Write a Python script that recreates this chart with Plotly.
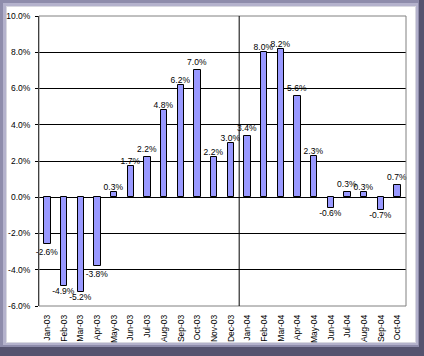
import plotly.graph_objects as go

months = ["Jan-03", "Feb-03", "Mar-03", "Apr-03", "May-03", "Jun-03", "Jul-03", "Aug-03",
          "Sep-03", "Oct-03", "Nov-03", "Dec-03", "Jan-04", "Feb-04", "Mar-04", "Apr-04",
          "May-04", "Jun-04", "Jul-04", "Aug-04", "Sep-04", "Oct-04"]
returns = [-2.6, -4.9, -5.2, -3.8, 0.3, 1.7, 2.2, 4.8, 6.2, 7.0, 2.2, 3.0,
           3.4, 8.0, 8.2, 5.6, 2.3, -0.6, 0.3, 0.3, -0.7, 0.7]
y_ticks = [-6, -4, -2, 0, 2, 4, 6, 8, 10]

W, H = 424, 356
L, R, T, B = 39, 18, 16, 50
pw, ph = W - L - R, H - T - B

def px(x):
    return (x - L) / pw

def py(y):
    return (H - B - y) / ph

FONT = "Liberation Sans, Arial, sans-serif"

fig = go.Figure()
fig.add_trace(go.Bar(
    x=months, y=returns, width=0.38,
    marker=dict(color="#9999FF", line=dict(color="black", width=1)),
    text=[f"{v:.1f}%" for v in returns],
    textposition="outside", constraintext="none", cliponaxis=False,
    textfont=dict(family=FONT, size=8.5, color="black"),
))

shapes = [
    # frame bevel
    dict(type="rect", xref="paper", yref="paper", x0=px(0), x1=px(W), y0=py(H), y1=py(0),
         fillcolor="#55536f", line=dict(width=0), layer="below"),
    dict(type="rect", xref="paper", yref="paper", x0=px(0), x1=px(419), y0=py(347), y1=py(0),
         fillcolor="#8e8cab", line=dict(width=0), layer="below"),
    dict(type="rect", xref="paper", yref="paper", x0=px(3), x1=px(418), y0=py(345), y1=py(3),
         fillcolor="#b4b2cc", line=dict(width=0), layer="below"),
    dict(type="rect", xref="paper", yref="paper", x0=px(6), x1=px(416), y0=py(343), y1=py(6),
         fillcolor="#d8d8e0", line=dict(width=0), layer="below"),
    dict(type="rect", xref="paper", yref="paper", x0=px(7), x1=px(415), y0=py(342), y1=py(7),
         fillcolor="white", line=dict(width=0), layer="below"),
    # plot area border
    dict(type="rect", xref="paper", yref="paper", x0=0, x1=1, y0=0, y1=1,
         line=dict(color="#808080", width=1), layer="above"),
    # year divider
    dict(type="line", xref="x", yref="paper", x0=11.5, x1=11.5, y0=0, y1=1,
         line=dict(color="black", width=1), layer="above"),
]

fig.update_layout(
    width=W, height=H,
    margin=dict(l=L, r=R, t=T, b=B),
    paper_bgcolor="#55536f", plot_bgcolor="rgba(0,0,0,0)",
    showlegend=False, shapes=shapes, bargap=0,
    font=dict(family=FONT, size=8.5, color="black"),
)
fig.update_xaxes(
    type="category", tickangle=-90, showgrid=False, showline=False,
    ticks="", ticklabelstandoff=6, automargin=False,
    tickfont=dict(family=FONT, size=8.5, color="black"),
    range=[-0.5, len(months) - 0.5],
)
fig.update_yaxes(
    range=[-6, 10], tickvals=y_ticks, ticktext=[f"{v:.1f}%" for v in y_ticks],
    showgrid=True, gridcolor="black", gridwidth=1,
    zeroline=True, zerolinecolor="black", zerolinewidth=1,
    showline=True, linecolor="black", linewidth=1,
    ticks="outside", ticklen=3, tickcolor="black", ticklabelstandoff=3,
    automargin=False,
    tickfont=dict(family=FONT, size=8.5, color="black"),
)

fig.write_html("out.html")
